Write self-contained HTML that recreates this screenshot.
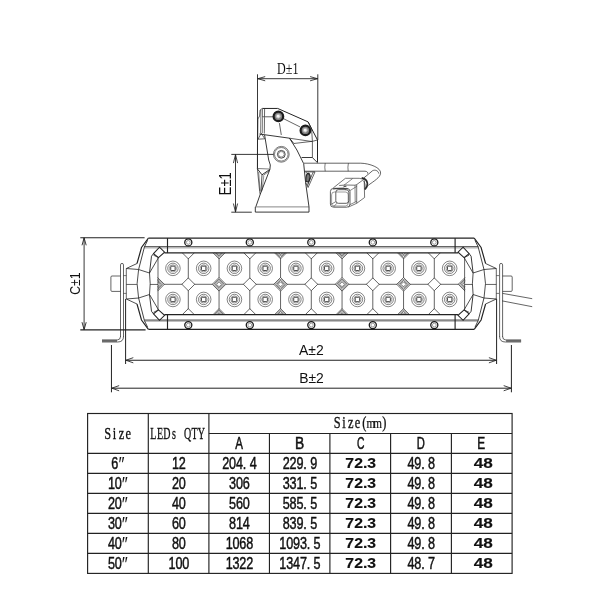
<!DOCTYPE html>
<html lang="en">
<head>
<meta charset="utf-8">
<title>LED light bar dimensions</title>
<style>
html,body{margin:0;padding:0;background:#fff;}
body{width:600px;height:600px;overflow:hidden;font-family:"Liberation Sans",sans-serif;}
svg{display:block;}
</style>
</head>
<body>
<svg width="600" height="600" viewBox="0 0 600 600" stroke-linecap="butt" stroke-linejoin="miter">
<rect x="0" y="0" width="600" height="600" fill="#fff"/>
<g opacity="0.999">
<g id="front">
<line x1="157.55" y1="284.30" x2="465.05" y2="284.30" stroke="#222" stroke-width="0.7" />
<line x1="188.30" y1="252.85" x2="188.30" y2="314.65" stroke="#222" stroke-width="0.7" />
<line x1="219.05" y1="252.85" x2="219.05" y2="314.65" stroke="#222" stroke-width="0.7" />
<line x1="249.80" y1="252.85" x2="249.80" y2="314.65" stroke="#222" stroke-width="0.7" />
<line x1="280.55" y1="252.85" x2="280.55" y2="314.65" stroke="#222" stroke-width="0.7" />
<line x1="311.30" y1="252.85" x2="311.30" y2="314.65" stroke="#222" stroke-width="0.7" />
<line x1="342.05" y1="252.85" x2="342.05" y2="314.65" stroke="#222" stroke-width="0.7" />
<line x1="372.80" y1="252.85" x2="372.80" y2="314.65" stroke="#222" stroke-width="0.7" />
<line x1="403.55" y1="252.85" x2="403.55" y2="314.65" stroke="#222" stroke-width="0.7" />
<line x1="434.30" y1="252.85" x2="434.30" y2="314.65" stroke="#222" stroke-width="0.7" />
<circle cx="172.93" cy="268.35" r="7.30" stroke="#333" stroke-width="0.6" fill="none"/>
<circle cx="172.93" cy="268.35" r="5.20" stroke="#333" stroke-width="0.6" fill="none"/>
<circle cx="172.93" cy="268.35" r="3.60" stroke="#444" stroke-width="0.5" fill="none"/>
<rect x="170.73" y="266.15" width="4.4" height="4.4" rx="0.9" stroke="#222" stroke-width="0.85" fill="none"/>
<circle cx="172.93" cy="299.45" r="7.30" stroke="#333" stroke-width="0.6" fill="none"/>
<circle cx="172.93" cy="299.45" r="5.20" stroke="#333" stroke-width="0.6" fill="none"/>
<circle cx="172.93" cy="299.45" r="3.60" stroke="#444" stroke-width="0.5" fill="none"/>
<rect x="170.73" y="297.25" width="4.4" height="4.4" rx="0.9" stroke="#222" stroke-width="0.85" fill="none"/>
<circle cx="203.68" cy="268.35" r="7.30" stroke="#333" stroke-width="0.6" fill="none"/>
<circle cx="203.68" cy="268.35" r="5.20" stroke="#333" stroke-width="0.6" fill="none"/>
<circle cx="203.68" cy="268.35" r="3.60" stroke="#444" stroke-width="0.5" fill="none"/>
<rect x="201.48" y="266.15" width="4.4" height="4.4" rx="0.9" stroke="#222" stroke-width="0.85" fill="none"/>
<circle cx="203.68" cy="299.45" r="7.30" stroke="#333" stroke-width="0.6" fill="none"/>
<circle cx="203.68" cy="299.45" r="5.20" stroke="#333" stroke-width="0.6" fill="none"/>
<circle cx="203.68" cy="299.45" r="3.60" stroke="#444" stroke-width="0.5" fill="none"/>
<rect x="201.48" y="297.25" width="4.4" height="4.4" rx="0.9" stroke="#222" stroke-width="0.85" fill="none"/>
<circle cx="234.43" cy="268.35" r="7.30" stroke="#333" stroke-width="0.6" fill="none"/>
<circle cx="234.43" cy="268.35" r="5.20" stroke="#333" stroke-width="0.6" fill="none"/>
<circle cx="234.43" cy="268.35" r="3.60" stroke="#444" stroke-width="0.5" fill="none"/>
<rect x="232.23" y="266.15" width="4.4" height="4.4" rx="0.9" stroke="#222" stroke-width="0.85" fill="none"/>
<circle cx="234.43" cy="299.45" r="7.30" stroke="#333" stroke-width="0.6" fill="none"/>
<circle cx="234.43" cy="299.45" r="5.20" stroke="#333" stroke-width="0.6" fill="none"/>
<circle cx="234.43" cy="299.45" r="3.60" stroke="#444" stroke-width="0.5" fill="none"/>
<rect x="232.23" y="297.25" width="4.4" height="4.4" rx="0.9" stroke="#222" stroke-width="0.85" fill="none"/>
<circle cx="265.18" cy="268.35" r="7.30" stroke="#333" stroke-width="0.6" fill="none"/>
<circle cx="265.18" cy="268.35" r="5.20" stroke="#333" stroke-width="0.6" fill="none"/>
<circle cx="265.18" cy="268.35" r="3.60" stroke="#444" stroke-width="0.5" fill="none"/>
<rect x="262.98" y="266.15" width="4.4" height="4.4" rx="0.9" stroke="#222" stroke-width="0.85" fill="none"/>
<circle cx="265.18" cy="299.45" r="7.30" stroke="#333" stroke-width="0.6" fill="none"/>
<circle cx="265.18" cy="299.45" r="5.20" stroke="#333" stroke-width="0.6" fill="none"/>
<circle cx="265.18" cy="299.45" r="3.60" stroke="#444" stroke-width="0.5" fill="none"/>
<rect x="262.98" y="297.25" width="4.4" height="4.4" rx="0.9" stroke="#222" stroke-width="0.85" fill="none"/>
<circle cx="295.93" cy="268.35" r="7.30" stroke="#333" stroke-width="0.6" fill="none"/>
<circle cx="295.93" cy="268.35" r="5.20" stroke="#333" stroke-width="0.6" fill="none"/>
<circle cx="295.93" cy="268.35" r="3.60" stroke="#444" stroke-width="0.5" fill="none"/>
<rect x="293.73" y="266.15" width="4.4" height="4.4" rx="0.9" stroke="#222" stroke-width="0.85" fill="none"/>
<circle cx="295.93" cy="299.45" r="7.30" stroke="#333" stroke-width="0.6" fill="none"/>
<circle cx="295.93" cy="299.45" r="5.20" stroke="#333" stroke-width="0.6" fill="none"/>
<circle cx="295.93" cy="299.45" r="3.60" stroke="#444" stroke-width="0.5" fill="none"/>
<rect x="293.73" y="297.25" width="4.4" height="4.4" rx="0.9" stroke="#222" stroke-width="0.85" fill="none"/>
<circle cx="326.68" cy="268.35" r="7.30" stroke="#333" stroke-width="0.6" fill="none"/>
<circle cx="326.68" cy="268.35" r="5.20" stroke="#333" stroke-width="0.6" fill="none"/>
<circle cx="326.68" cy="268.35" r="3.60" stroke="#444" stroke-width="0.5" fill="none"/>
<rect x="324.48" y="266.15" width="4.4" height="4.4" rx="0.9" stroke="#222" stroke-width="0.85" fill="none"/>
<circle cx="326.68" cy="299.45" r="7.30" stroke="#333" stroke-width="0.6" fill="none"/>
<circle cx="326.68" cy="299.45" r="5.20" stroke="#333" stroke-width="0.6" fill="none"/>
<circle cx="326.68" cy="299.45" r="3.60" stroke="#444" stroke-width="0.5" fill="none"/>
<rect x="324.48" y="297.25" width="4.4" height="4.4" rx="0.9" stroke="#222" stroke-width="0.85" fill="none"/>
<circle cx="357.43" cy="268.35" r="7.30" stroke="#333" stroke-width="0.6" fill="none"/>
<circle cx="357.43" cy="268.35" r="5.20" stroke="#333" stroke-width="0.6" fill="none"/>
<circle cx="357.43" cy="268.35" r="3.60" stroke="#444" stroke-width="0.5" fill="none"/>
<rect x="355.23" y="266.15" width="4.4" height="4.4" rx="0.9" stroke="#222" stroke-width="0.85" fill="none"/>
<circle cx="357.43" cy="299.45" r="7.30" stroke="#333" stroke-width="0.6" fill="none"/>
<circle cx="357.43" cy="299.45" r="5.20" stroke="#333" stroke-width="0.6" fill="none"/>
<circle cx="357.43" cy="299.45" r="3.60" stroke="#444" stroke-width="0.5" fill="none"/>
<rect x="355.23" y="297.25" width="4.4" height="4.4" rx="0.9" stroke="#222" stroke-width="0.85" fill="none"/>
<circle cx="388.18" cy="268.35" r="7.30" stroke="#333" stroke-width="0.6" fill="none"/>
<circle cx="388.18" cy="268.35" r="5.20" stroke="#333" stroke-width="0.6" fill="none"/>
<circle cx="388.18" cy="268.35" r="3.60" stroke="#444" stroke-width="0.5" fill="none"/>
<rect x="385.98" y="266.15" width="4.4" height="4.4" rx="0.9" stroke="#222" stroke-width="0.85" fill="none"/>
<circle cx="388.18" cy="299.45" r="7.30" stroke="#333" stroke-width="0.6" fill="none"/>
<circle cx="388.18" cy="299.45" r="5.20" stroke="#333" stroke-width="0.6" fill="none"/>
<circle cx="388.18" cy="299.45" r="3.60" stroke="#444" stroke-width="0.5" fill="none"/>
<rect x="385.98" y="297.25" width="4.4" height="4.4" rx="0.9" stroke="#222" stroke-width="0.85" fill="none"/>
<circle cx="418.93" cy="268.35" r="7.30" stroke="#333" stroke-width="0.6" fill="none"/>
<circle cx="418.93" cy="268.35" r="5.20" stroke="#333" stroke-width="0.6" fill="none"/>
<circle cx="418.93" cy="268.35" r="3.60" stroke="#444" stroke-width="0.5" fill="none"/>
<rect x="416.73" y="266.15" width="4.4" height="4.4" rx="0.9" stroke="#222" stroke-width="0.85" fill="none"/>
<circle cx="418.93" cy="299.45" r="7.30" stroke="#333" stroke-width="0.6" fill="none"/>
<circle cx="418.93" cy="299.45" r="5.20" stroke="#333" stroke-width="0.6" fill="none"/>
<circle cx="418.93" cy="299.45" r="3.60" stroke="#444" stroke-width="0.5" fill="none"/>
<rect x="416.73" y="297.25" width="4.4" height="4.4" rx="0.9" stroke="#222" stroke-width="0.85" fill="none"/>
<circle cx="449.68" cy="268.35" r="7.30" stroke="#333" stroke-width="0.6" fill="none"/>
<circle cx="449.68" cy="268.35" r="5.20" stroke="#333" stroke-width="0.6" fill="none"/>
<circle cx="449.68" cy="268.35" r="3.60" stroke="#444" stroke-width="0.5" fill="none"/>
<rect x="447.48" y="266.15" width="4.4" height="4.4" rx="0.9" stroke="#222" stroke-width="0.85" fill="none"/>
<circle cx="449.68" cy="299.45" r="7.30" stroke="#333" stroke-width="0.6" fill="none"/>
<circle cx="449.68" cy="299.45" r="5.20" stroke="#333" stroke-width="0.6" fill="none"/>
<circle cx="449.68" cy="299.45" r="3.60" stroke="#444" stroke-width="0.5" fill="none"/>
<rect x="447.48" y="297.25" width="4.4" height="4.4" rx="0.9" stroke="#222" stroke-width="0.85" fill="none"/>
<path d="M157.55,277.50 L164.35,284.30 L157.55,291.10" stroke="#222" stroke-width="0.7" fill="#fff" />
<path d="M157.55,279.00 L162.85,284.30 L157.55,289.60" stroke="#222" stroke-width="0.6" fill="none" />
<path d="M157.55,280.40 L161.45,284.30 L157.55,288.20" stroke="#222" stroke-width="0.6" fill="none" />
<path d="M157.55,281.80 L160.05,284.30 L157.55,286.80" stroke="#222" stroke-width="0.6" fill="none" />
<path d="M181.90,284.30 L188.30,277.90 L194.70,284.30 L188.30,290.70 Z" stroke="#222" stroke-width="0.7" fill="#fff" />
<path d="M182.30,252.85 L188.30,258.85 L194.30,252.85" stroke="#222" stroke-width="0.7" fill="#fff" />
<path d="M182.30,314.65 L188.30,308.65 L194.30,314.65" stroke="#222" stroke-width="0.7" fill="#fff" />
<path d="M212.25,284.30 L219.05,277.50 L225.85,284.30 L219.05,291.10 Z" stroke="#222" stroke-width="0.7" fill="#fff" />
<path d="M213.75,284.30 L219.05,279.00 L224.35,284.30 L219.05,289.60 Z" stroke="#222" stroke-width="0.6" fill="none" />
<path d="M215.15,284.30 L219.05,280.40 L222.95,284.30 L219.05,288.20 Z" stroke="#222" stroke-width="0.6" fill="none" />
<path d="M216.55,284.30 L219.05,281.80 L221.55,284.30 L219.05,286.80 Z" stroke="#222" stroke-width="0.6" fill="none" />
<path d="M213.05,252.85 L219.05,258.85 L225.05,252.85" stroke="#222" stroke-width="0.7" fill="#fff" />
<path d="M214.45,252.85 L219.05,257.45 L223.65,252.85" stroke="#222" stroke-width="0.6" fill="none" />
<path d="M215.85,252.85 L219.05,256.05 L222.25,252.85" stroke="#222" stroke-width="0.6" fill="none" />
<path d="M217.25,252.85 L219.05,254.65 L220.85,252.85" stroke="#222" stroke-width="0.6" fill="none" />
<path d="M213.05,314.65 L219.05,308.65 L225.05,314.65" stroke="#222" stroke-width="0.7" fill="#fff" />
<path d="M214.45,314.65 L219.05,310.05 L223.65,314.65" stroke="#222" stroke-width="0.6" fill="none" />
<path d="M215.85,314.65 L219.05,311.45 L222.25,314.65" stroke="#222" stroke-width="0.6" fill="none" />
<path d="M217.25,314.65 L219.05,312.85 L220.85,314.65" stroke="#222" stroke-width="0.6" fill="none" />
<path d="M243.40,284.30 L249.80,277.90 L256.20,284.30 L249.80,290.70 Z" stroke="#222" stroke-width="0.7" fill="#fff" />
<path d="M243.80,252.85 L249.80,258.85 L255.80,252.85" stroke="#222" stroke-width="0.7" fill="#fff" />
<path d="M243.80,314.65 L249.80,308.65 L255.80,314.65" stroke="#222" stroke-width="0.7" fill="#fff" />
<path d="M273.75,284.30 L280.55,277.50 L287.35,284.30 L280.55,291.10 Z" stroke="#222" stroke-width="0.7" fill="#fff" />
<path d="M275.25,284.30 L280.55,279.00 L285.85,284.30 L280.55,289.60 Z" stroke="#222" stroke-width="0.6" fill="none" />
<path d="M276.65,284.30 L280.55,280.40 L284.45,284.30 L280.55,288.20 Z" stroke="#222" stroke-width="0.6" fill="none" />
<path d="M278.05,284.30 L280.55,281.80 L283.05,284.30 L280.55,286.80 Z" stroke="#222" stroke-width="0.6" fill="none" />
<path d="M274.55,252.85 L280.55,258.85 L286.55,252.85" stroke="#222" stroke-width="0.7" fill="#fff" />
<path d="M275.95,252.85 L280.55,257.45 L285.15,252.85" stroke="#222" stroke-width="0.6" fill="none" />
<path d="M277.35,252.85 L280.55,256.05 L283.75,252.85" stroke="#222" stroke-width="0.6" fill="none" />
<path d="M278.75,252.85 L280.55,254.65 L282.35,252.85" stroke="#222" stroke-width="0.6" fill="none" />
<path d="M274.55,314.65 L280.55,308.65 L286.55,314.65" stroke="#222" stroke-width="0.7" fill="#fff" />
<path d="M275.95,314.65 L280.55,310.05 L285.15,314.65" stroke="#222" stroke-width="0.6" fill="none" />
<path d="M277.35,314.65 L280.55,311.45 L283.75,314.65" stroke="#222" stroke-width="0.6" fill="none" />
<path d="M278.75,314.65 L280.55,312.85 L282.35,314.65" stroke="#222" stroke-width="0.6" fill="none" />
<path d="M304.90,284.30 L311.30,277.90 L317.70,284.30 L311.30,290.70 Z" stroke="#222" stroke-width="0.7" fill="#fff" />
<path d="M305.30,252.85 L311.30,258.85 L317.30,252.85" stroke="#222" stroke-width="0.7" fill="#fff" />
<path d="M305.30,314.65 L311.30,308.65 L317.30,314.65" stroke="#222" stroke-width="0.7" fill="#fff" />
<path d="M335.25,284.30 L342.05,277.50 L348.85,284.30 L342.05,291.10 Z" stroke="#222" stroke-width="0.7" fill="#fff" />
<path d="M336.75,284.30 L342.05,279.00 L347.35,284.30 L342.05,289.60 Z" stroke="#222" stroke-width="0.6" fill="none" />
<path d="M338.15,284.30 L342.05,280.40 L345.95,284.30 L342.05,288.20 Z" stroke="#222" stroke-width="0.6" fill="none" />
<path d="M339.55,284.30 L342.05,281.80 L344.55,284.30 L342.05,286.80 Z" stroke="#222" stroke-width="0.6" fill="none" />
<path d="M336.05,252.85 L342.05,258.85 L348.05,252.85" stroke="#222" stroke-width="0.7" fill="#fff" />
<path d="M337.45,252.85 L342.05,257.45 L346.65,252.85" stroke="#222" stroke-width="0.6" fill="none" />
<path d="M338.85,252.85 L342.05,256.05 L345.25,252.85" stroke="#222" stroke-width="0.6" fill="none" />
<path d="M340.25,252.85 L342.05,254.65 L343.85,252.85" stroke="#222" stroke-width="0.6" fill="none" />
<path d="M336.05,314.65 L342.05,308.65 L348.05,314.65" stroke="#222" stroke-width="0.7" fill="#fff" />
<path d="M337.45,314.65 L342.05,310.05 L346.65,314.65" stroke="#222" stroke-width="0.6" fill="none" />
<path d="M338.85,314.65 L342.05,311.45 L345.25,314.65" stroke="#222" stroke-width="0.6" fill="none" />
<path d="M340.25,314.65 L342.05,312.85 L343.85,314.65" stroke="#222" stroke-width="0.6" fill="none" />
<path d="M366.40,284.30 L372.80,277.90 L379.20,284.30 L372.80,290.70 Z" stroke="#222" stroke-width="0.7" fill="#fff" />
<path d="M366.80,252.85 L372.80,258.85 L378.80,252.85" stroke="#222" stroke-width="0.7" fill="#fff" />
<path d="M366.80,314.65 L372.80,308.65 L378.80,314.65" stroke="#222" stroke-width="0.7" fill="#fff" />
<path d="M396.75,284.30 L403.55,277.50 L410.35,284.30 L403.55,291.10 Z" stroke="#222" stroke-width="0.7" fill="#fff" />
<path d="M398.25,284.30 L403.55,279.00 L408.85,284.30 L403.55,289.60 Z" stroke="#222" stroke-width="0.6" fill="none" />
<path d="M399.65,284.30 L403.55,280.40 L407.45,284.30 L403.55,288.20 Z" stroke="#222" stroke-width="0.6" fill="none" />
<path d="M401.05,284.30 L403.55,281.80 L406.05,284.30 L403.55,286.80 Z" stroke="#222" stroke-width="0.6" fill="none" />
<path d="M397.55,252.85 L403.55,258.85 L409.55,252.85" stroke="#222" stroke-width="0.7" fill="#fff" />
<path d="M398.95,252.85 L403.55,257.45 L408.15,252.85" stroke="#222" stroke-width="0.6" fill="none" />
<path d="M400.35,252.85 L403.55,256.05 L406.75,252.85" stroke="#222" stroke-width="0.6" fill="none" />
<path d="M401.75,252.85 L403.55,254.65 L405.35,252.85" stroke="#222" stroke-width="0.6" fill="none" />
<path d="M397.55,314.65 L403.55,308.65 L409.55,314.65" stroke="#222" stroke-width="0.7" fill="#fff" />
<path d="M398.95,314.65 L403.55,310.05 L408.15,314.65" stroke="#222" stroke-width="0.6" fill="none" />
<path d="M400.35,314.65 L403.55,311.45 L406.75,314.65" stroke="#222" stroke-width="0.6" fill="none" />
<path d="M401.75,314.65 L403.55,312.85 L405.35,314.65" stroke="#222" stroke-width="0.6" fill="none" />
<path d="M427.90,284.30 L434.30,277.90 L440.70,284.30 L434.30,290.70 Z" stroke="#222" stroke-width="0.7" fill="#fff" />
<path d="M428.30,252.85 L434.30,258.85 L440.30,252.85" stroke="#222" stroke-width="0.7" fill="#fff" />
<path d="M428.30,314.65 L434.30,308.65 L440.30,314.65" stroke="#222" stroke-width="0.7" fill="#fff" />
<path d="M465.05,277.50 L458.25,284.30 L465.05,291.10" stroke="#222" stroke-width="0.7" fill="#fff" />
<path d="M465.05,279.00 L459.75,284.30 L465.05,289.60" stroke="#222" stroke-width="0.6" fill="none" />
<path d="M465.05,280.40 L461.15,284.30 L465.05,288.20" stroke="#222" stroke-width="0.6" fill="none" />
<path d="M465.05,281.80 L462.55,284.30 L465.05,286.80" stroke="#222" stroke-width="0.6" fill="none" />
<line x1="148.40" y1="238.15" x2="474.20" y2="238.15" stroke="#222" stroke-width="1.25" />
<line x1="148.40" y1="329.35" x2="474.20" y2="329.35" stroke="#222" stroke-width="1.25" />
<line x1="144.30" y1="246.65" x2="478.30" y2="246.65" stroke="#2a2a2a" stroke-width="0.85" />
<line x1="144.30" y1="320.85" x2="478.30" y2="320.85" stroke="#2a2a2a" stroke-width="0.85" />
<line x1="144.30" y1="247.90" x2="478.30" y2="247.90" stroke="#777" stroke-width="0.7" />
<line x1="144.30" y1="319.60" x2="478.30" y2="319.60" stroke="#777" stroke-width="0.7" />
<line x1="164.50" y1="252.85" x2="458.10" y2="252.85" stroke="#222" stroke-width="1.35" />
<line x1="164.50" y1="314.65" x2="458.10" y2="314.65" stroke="#222" stroke-width="1.35" />
<line x1="167.50" y1="238.15" x2="167.50" y2="252.85" stroke="#222" stroke-width="1.15" />
<line x1="167.50" y1="314.65" x2="167.50" y2="329.35" stroke="#222" stroke-width="1.15" />
<line x1="455.10" y1="238.15" x2="455.10" y2="252.85" stroke="#222" stroke-width="1.15" />
<line x1="455.10" y1="314.65" x2="455.10" y2="329.35" stroke="#222" stroke-width="1.15" />
<circle cx="188.30" cy="242.40" r="3.55" stroke="#1a1a1a" stroke-width="1.3" fill="#fff"/>
<circle cx="188.30" cy="242.40" r="1.90" stroke="#444" stroke-width="0.5" fill="none"/>
<circle cx="188.30" cy="325.10" r="3.55" stroke="#1a1a1a" stroke-width="1.3" fill="#fff"/>
<circle cx="188.30" cy="325.10" r="1.90" stroke="#444" stroke-width="0.5" fill="none"/>
<circle cx="249.80" cy="242.40" r="3.55" stroke="#1a1a1a" stroke-width="1.3" fill="#fff"/>
<circle cx="249.80" cy="242.40" r="1.90" stroke="#444" stroke-width="0.5" fill="none"/>
<circle cx="249.80" cy="325.10" r="3.55" stroke="#1a1a1a" stroke-width="1.3" fill="#fff"/>
<circle cx="249.80" cy="325.10" r="1.90" stroke="#444" stroke-width="0.5" fill="none"/>
<circle cx="311.30" cy="242.40" r="3.55" stroke="#1a1a1a" stroke-width="1.3" fill="#fff"/>
<circle cx="311.30" cy="242.40" r="1.90" stroke="#444" stroke-width="0.5" fill="none"/>
<circle cx="311.30" cy="325.10" r="3.55" stroke="#1a1a1a" stroke-width="1.3" fill="#fff"/>
<circle cx="311.30" cy="325.10" r="1.90" stroke="#444" stroke-width="0.5" fill="none"/>
<circle cx="372.80" cy="242.40" r="3.55" stroke="#1a1a1a" stroke-width="1.3" fill="#fff"/>
<circle cx="372.80" cy="242.40" r="1.90" stroke="#444" stroke-width="0.5" fill="none"/>
<circle cx="372.80" cy="325.10" r="3.55" stroke="#1a1a1a" stroke-width="1.3" fill="#fff"/>
<circle cx="372.80" cy="325.10" r="1.90" stroke="#444" stroke-width="0.5" fill="none"/>
<circle cx="434.30" cy="242.40" r="3.55" stroke="#1a1a1a" stroke-width="1.3" fill="#fff"/>
<circle cx="434.30" cy="242.40" r="1.90" stroke="#444" stroke-width="0.5" fill="none"/>
<circle cx="434.30" cy="325.10" r="3.55" stroke="#1a1a1a" stroke-width="1.3" fill="#fff"/>
<circle cx="434.30" cy="325.10" r="1.90" stroke="#444" stroke-width="0.5" fill="none"/>
<path d="M148.40,238.15 L141.50,247.50 L137.00,263.50" stroke="#222" stroke-width="1.15" fill="none" />
<path d="M147.60,240.30 L144.40,247.00 L138.60,269.50" stroke="#222" stroke-width="0.85" fill="none" />
<path d="M137.00,263.50 L126.30,268.50 L138.60,269.50" stroke="#222" stroke-width="0.8" fill="none" />
<path d="M138.60,269.50 L149.50,273.00" stroke="#222" stroke-width="0.8" fill="none" />
<path d="M153.50,253.60 L159.50,247.20 L164.60,252.20 L158.50,257.60 Z" stroke="#222" stroke-width="1.05" fill="none" />
<path d="M153.50,253.60 L151.50,256.20 L149.50,273.00" stroke="#222" stroke-width="0.9" fill="none" />
<path d="M153.50,255.20 L158.50,257.60" stroke="#222" stroke-width="0.7" fill="none" />
<path d="M158.50,257.60 L149.50,273.00" stroke="#222" stroke-width="0.8" fill="none" />
<g transform="translate(0,567.50) scale(1,-1)">
<path d="M148.40,238.15 L141.50,247.50 L137.00,263.50" stroke="#222" stroke-width="1.15" fill="none" />
<path d="M147.60,240.30 L144.40,247.00 L138.60,269.50" stroke="#222" stroke-width="0.85" fill="none" />
<path d="M137.00,263.50 L126.30,268.50 L138.60,269.50" stroke="#222" stroke-width="0.8" fill="none" />
<path d="M138.60,269.50 L149.50,273.00" stroke="#222" stroke-width="0.8" fill="none" />
<path d="M153.50,253.60 L159.50,247.20 L164.60,252.20 L158.50,257.60 Z" stroke="#222" stroke-width="1.05" fill="none" />
<path d="M153.50,253.60 L151.50,256.20 L149.50,273.00" stroke="#222" stroke-width="0.9" fill="none" />
<path d="M153.50,255.20 L158.50,257.60" stroke="#222" stroke-width="0.7" fill="none" />
<path d="M158.50,257.60 L149.50,273.00" stroke="#222" stroke-width="0.8" fill="none" />
</g>
<path d="M138.6,269.5 Q135.6,283.75 138.6,298.00" stroke="#222" stroke-width="0.8" fill="none" />
<path d="M149.5,273 Q150.9,283.75 149.5,294.50" stroke="#222" stroke-width="0.8" fill="none" />
<line x1="126.30" y1="268.50" x2="126.30" y2="299.00" stroke="#222" stroke-width="0.7" />
<line x1="158.00" y1="257.60" x2="158.00" y2="309.90" stroke="#222" stroke-width="0.7" />
<line x1="126.30" y1="284.45" x2="136.90" y2="284.45" stroke="#222" stroke-width="0.7" />
<line x1="150.10" y1="284.45" x2="158.00" y2="284.45" stroke="#222" stroke-width="0.7" />
<g transform="translate(0,0)">
<path d="M120.5,337 V264.9 A1.5,1.5 0 0 1 123.5,264.9 V337" stroke="#222" stroke-width="0.7" fill="none" />
<path d="M120.5,276.0 H112.0 Q110.9,276.0 110.9,277.1 V290.3 Q110.9,291.4 112.0,291.4 H120.5" stroke="#222" stroke-width="0.7" fill="none" />
</g>
<path d="M123.5,275.6 H126.3 M123.5,293.4 H126.3" stroke="#222" stroke-width="0.6" fill="none" />
<g transform="translate(622.60,0) scale(-1,1)">
<path d="M148.40,238.15 L141.50,247.50 L137.00,263.50" stroke="#222" stroke-width="1.15" fill="none" />
<path d="M147.60,240.30 L144.40,247.00 L138.60,269.50" stroke="#222" stroke-width="0.85" fill="none" />
<path d="M137.00,263.50 L126.30,268.50 L138.60,269.50" stroke="#222" stroke-width="0.8" fill="none" />
<path d="M138.60,269.50 L149.50,273.00" stroke="#222" stroke-width="0.8" fill="none" />
<path d="M153.50,253.60 L159.50,247.20 L164.60,252.20 L158.50,257.60 Z" stroke="#222" stroke-width="1.05" fill="none" />
<path d="M153.50,253.60 L151.50,256.20 L149.50,273.00" stroke="#222" stroke-width="0.9" fill="none" />
<path d="M153.50,255.20 L158.50,257.60" stroke="#222" stroke-width="0.7" fill="none" />
<path d="M158.50,257.60 L149.50,273.00" stroke="#222" stroke-width="0.8" fill="none" />
<g transform="translate(0,567.50) scale(1,-1)">
<path d="M148.40,238.15 L141.50,247.50 L137.00,263.50" stroke="#222" stroke-width="1.15" fill="none" />
<path d="M147.60,240.30 L144.40,247.00 L138.60,269.50" stroke="#222" stroke-width="0.85" fill="none" />
<path d="M137.00,263.50 L126.30,268.50 L138.60,269.50" stroke="#222" stroke-width="0.8" fill="none" />
<path d="M138.60,269.50 L149.50,273.00" stroke="#222" stroke-width="0.8" fill="none" />
<path d="M153.50,253.60 L159.50,247.20 L164.60,252.20 L158.50,257.60 Z" stroke="#222" stroke-width="1.05" fill="none" />
<path d="M153.50,253.60 L151.50,256.20 L149.50,273.00" stroke="#222" stroke-width="0.9" fill="none" />
<path d="M153.50,255.20 L158.50,257.60" stroke="#222" stroke-width="0.7" fill="none" />
<path d="M158.50,257.60 L149.50,273.00" stroke="#222" stroke-width="0.8" fill="none" />
</g>
<path d="M138.6,269.5 Q135.6,283.75 138.6,298.00" stroke="#222" stroke-width="0.8" fill="none" />
<path d="M149.5,273 Q150.9,283.75 149.5,294.50" stroke="#222" stroke-width="0.8" fill="none" />
<line x1="126.30" y1="268.50" x2="126.30" y2="299.00" stroke="#222" stroke-width="0.7" />
<line x1="158.00" y1="257.60" x2="158.00" y2="309.90" stroke="#222" stroke-width="0.7" />
<line x1="126.30" y1="284.45" x2="136.90" y2="284.45" stroke="#222" stroke-width="0.7" />
<line x1="150.10" y1="284.45" x2="158.00" y2="284.45" stroke="#222" stroke-width="0.7" />
<g transform="translate(-0.5,0)">
<path d="M120.5,337 V264.9 A1.5,1.5 0 0 1 123.5,264.9 V337" stroke="#222" stroke-width="0.7" fill="none" />
<path d="M120.5,276.0 H112.0 Q110.9,276.0 110.9,277.1 V290.3 Q110.9,291.4 112.0,291.4 H120.5" stroke="#222" stroke-width="0.7" fill="none" />
</g>
<path d="M123.5,275.6 H126.3 M123.5,293.4 H126.3" stroke="#222" stroke-width="0.6" fill="none" />
</g>
<path d="M120.5,336.5 Q120.5,339.8 117.4,339.9 H102" stroke="#222" stroke-width="0.7" fill="none" />
<path d="M123.5,336.5 Q123.5,342.0 117.6,342.0 H102" stroke="#222" stroke-width="0.7" fill="none" />
<path d="M102,340.95 H117" stroke="#555" stroke-width="1.6" fill="none" />
<g transform="translate(623.10,0) scale(-1,1)">
<path d="M120.5,336.5 Q120.5,339.8 117.4,339.9 H102" stroke="#222" stroke-width="0.7" fill="none" />
<path d="M123.5,336.5 Q123.5,342.0 117.6,342.0 H102" stroke="#222" stroke-width="0.7" fill="none" />
<path d="M102,340.95 H117" stroke="#555" stroke-width="1.6" fill="none" />
</g>
<path d="M502.6,293.4 L532.2,298.7" stroke="#222" stroke-width="0.7" fill="none" />
<path d="M502.2,300.9 L532.2,306.7" stroke="#222" stroke-width="0.7" fill="none" />
<line x1="80.30" y1="237.70" x2="144.60" y2="237.70" stroke="#222" stroke-width="1.15" />
<line x1="80.30" y1="329.80" x2="145.60" y2="329.80" stroke="#222" stroke-width="1.15" />
<line x1="84.10" y1="237.70" x2="84.10" y2="329.80" stroke="#222" stroke-width="0.9" />
<path d="M82.00,245.30 L84.10,237.90 L86.20,245.30" stroke="#222" stroke-width="0.9" fill="none" />
<path d="M86.20,322.20 L84.10,329.60 L82.00,322.20" stroke="#222" stroke-width="0.9" fill="none" />
<line x1="125.60" y1="299.00" x2="125.60" y2="364.00" stroke="#222" stroke-width="1.0" />
<line x1="496.60" y1="299.00" x2="496.60" y2="364.00" stroke="#222" stroke-width="1.0" />
<line x1="125.60" y1="360.25" x2="496.60" y2="360.25" stroke="#222" stroke-width="1.0" />
<path d="M133.30,362.85 L125.90,360.25 L133.30,357.65" stroke="#222" stroke-width="0.85" fill="none" />
<path d="M488.90,357.65 L496.30,360.25 L488.90,362.85" stroke="#222" stroke-width="0.85" fill="none" />
<line x1="111.45" y1="345.00" x2="111.45" y2="392.30" stroke="#222" stroke-width="1.0" />
<line x1="511.40" y1="345.00" x2="511.40" y2="392.30" stroke="#222" stroke-width="1.0" />
<line x1="111.45" y1="388.20" x2="511.40" y2="388.20" stroke="#222" stroke-width="1.0" />
<path d="M119.15,390.80 L111.75,388.20 L119.15,385.60" stroke="#222" stroke-width="0.85" fill="none" />
<path d="M503.70,385.60 L511.10,388.20 L503.70,390.80" stroke="#222" stroke-width="0.85" fill="none" />
</g>
<g id="side">
<line x1="257.50" y1="74.30" x2="257.50" y2="168.70" stroke="#222" stroke-width="0.9" />
<line x1="317.80" y1="74.30" x2="317.80" y2="140.00" stroke="#222" stroke-width="0.9" />
<line x1="257.50" y1="78.70" x2="317.80" y2="78.70" stroke="#222" stroke-width="0.9" />
<path d="M265.20,80.80 L257.80,78.70 L265.20,76.60" stroke="#222" stroke-width="0.85" fill="none" />
<path d="M310.10,76.60 L317.50,78.70 L310.10,80.80" stroke="#222" stroke-width="0.85" fill="none" />
<line x1="231.30" y1="154.40" x2="273.60" y2="154.40" stroke="#222" stroke-width="0.9" />
<line x1="231.30" y1="212.20" x2="251.80" y2="212.20" stroke="#222" stroke-width="0.9" />
<line x1="235.50" y1="154.40" x2="235.50" y2="212.20" stroke="#222" stroke-width="0.9" />
<path d="M233.40,163.10 L235.50,154.60 L237.60,163.10" stroke="#222" stroke-width="0.85" fill="none" />
<path d="M237.60,203.50 L235.50,212.00 L233.40,203.50" stroke="#222" stroke-width="0.85" fill="none" />
<path d="M262.30,108.45 L277.70,108.45 L308.10,121.90 L317.50,140.00 L317.50,162.50" stroke="#222" stroke-width="1.0" fill="none" />
<path d="M262.30,108.45 L260.10,110.00 L259.60,116.00 L257.90,119.00 L257.70,138.60" stroke="#222" stroke-width="0.7" fill="none" />
<path d="M260.90,109.80 L260.60,133.00" stroke="#222" stroke-width="0.6" fill="none" />
<path d="M262.50,109.00 L262.30,133.20" stroke="#222" stroke-width="0.6" fill="none" />
<path d="M264.60,108.60 L264.30,133.60" stroke="#222" stroke-width="0.7" fill="none" />
<line x1="262.00" y1="116.50" x2="273.20" y2="116.50" stroke="#444" stroke-width="0.6" />
<line x1="262.00" y1="117.30" x2="273.20" y2="117.30" stroke="#888" stroke-width="0.5" />
<path d="M261.20,133.20 L258.00,139.20 L264.80,138.80 Z" stroke="#222" stroke-width="0.7" fill="none" />
<path d="M283.80,118.80 L300.00,126.90" stroke="#222" stroke-width="0.7" fill="none" />
<path d="M308.10,121.90 L311.60,129.00 L312.40,141.30 L312.40,157.50" stroke="#222" stroke-width="0.7" fill="none" />
<path d="M279.40,123.10 L281.30,135.00" stroke="#222" stroke-width="0.7" fill="none" />
<path d="M259.40,134.00 L289.50,138.20 L293.80,143.50" stroke="#222" stroke-width="0.9" fill="none" />
<path d="M293.80,143.50 L312.50,141.30 L317.50,140.00" stroke="#222" stroke-width="0.7" fill="none" />
<path d="M289.50,138.20 L312.40,141.60" stroke="#222" stroke-width="0.7" fill="none" />
<path d="M257.50,138.60 L257.40,168.60 L259.70,191.70 L260.20,194.40" stroke="#222" stroke-width="0.7" fill="none" />
<path d="M257.40,168.50 L269.00,169.00" stroke="#222" stroke-width="0.6" fill="none" />
<path d="M257.40,168.90 L262.00,174.80 L269.90,169.40" stroke="#222" stroke-width="0.95" fill="none" />
<path d="M263.40,175.40 L269.40,170.80" stroke="#222" stroke-width="0.6" fill="none" />
<path d="M262.00,174.80 L261.00,191.70" stroke="#222" stroke-width="0.8" fill="none" />
<path d="M263.80,175.80 L262.00,190.60" stroke="#222" stroke-width="0.5" fill="none" />
<path d="M258.70,172.00 L260.10,190.80" stroke="#222" stroke-width="0.5" fill="none" />
<path d="M264.60,135.00 L268.70,160.00 L270.30,165.00 L269.90,169.40 L260.20,194.40 L255.90,206.60" stroke="#222" stroke-width="0.9" fill="none" />
<path d="M289.50,138.20 L296.90,150.00 L303.70,163.70 L305.60,182.50 L309.00,206.90" stroke="#222" stroke-width="0.9" fill="none" />
<path d="M255.3,206.9 V212.1 H309.0 V206.9" stroke="#222" stroke-width="0.9" fill="none" />
<line x1="255.30" y1="206.90" x2="309.00" y2="206.90" stroke="#222" stroke-width="0.55" />
<circle cx="281.30" cy="154.30" r="7.90" stroke="#222" stroke-width="0.6" fill="none"/>
<circle cx="281.30" cy="154.30" r="6.80" stroke="#222" stroke-width="0.6" fill="none"/>
<circle cx="281.30" cy="154.30" r="3.90" stroke="#222" stroke-width="0.8" fill="none"/>
<path d="M284.30,154.30 L282.80,156.90 L279.80,156.90 L278.30,154.30 L279.80,151.70 L282.80,151.70 Z" stroke="#222" stroke-width="0.5" fill="none" />
<circle cx="278.40" cy="116.40" r="4.80" stroke="#1c1c1c" stroke-width="2.2" fill="#808080"/>
<circle cx="278.20" cy="116.20" r="2.00" stroke="#b5b5b5" stroke-width="1.0" fill="#f6f6f6"/>
<circle cx="305.40" cy="130.40" r="4.80" stroke="#1c1c1c" stroke-width="2.2" fill="#808080"/>
<circle cx="305.20" cy="130.20" r="2.00" stroke="#b5b5b5" stroke-width="1.0" fill="#f6f6f6"/>
<path d="M301.60,157.50 L312.30,157.50 L317.50,162.70" stroke="#222" stroke-width="0.9" fill="none" />
<path d="M305.00,171.90 L315.00,171.90 L308.10,187.50 L305.60,182.50" stroke="#222" stroke-width="0.7" fill="none" />
<path d="M313.30,171.90 L307.60,184.60" stroke="#222" stroke-width="0.7" fill="none" />
<ellipse cx="307.9" cy="177.6" rx="1.9" ry="4.3" fill="#777" stroke="#2a2a2a" stroke-width="1.1" transform="rotate(8 307.9 177.6)"/>
<path d="M306.20,172.40 L311.00,176.50 L307.40,186.00" stroke="#222" stroke-width="0.6" fill="none" />
<path d="M304.0,163.2 H360.8 C369.5,163.4 381.2,167.6 380.6,173.2 C380.2,177.6 374.0,181.0 367.6,185.8" stroke="#222" stroke-width="0.7" fill="none" />
<path d="M304.6,171.2 H365.0 C367.2,171.4 368.0,172.4 367.6,173.6" stroke="#222" stroke-width="0.7" fill="none" />
<path d="M363.9,177.9 L372.6,170.7 C374.8,169.5 378.2,170.4 378.8,173.6" stroke="#222" stroke-width="0.7" fill="none" />
<path d="M325.2,163.2 Q324.4,167.2 325.2,171.2" stroke="#222" stroke-width="0.6" fill="none" />
<path d="M348.4,163.2 Q347.5,167.2 348.2,171.2" stroke="#222" stroke-width="0.6" fill="none" />
<path d="M333.30,187.90 L345.40,178.30 L359.20,178.30 L363.90,179.30" stroke="#3a3a3a" stroke-width="0.7" fill="none" />
<path d="M343.80,185.30 L352.60,178.60" stroke="#3a3a3a" stroke-width="0.6" fill="none" />
<path d="M339.20,185.50 L345.40,185.00 L355.00,185.20 L356.70,184.60 L363.90,179.30" stroke="#3a3a3a" stroke-width="0.7" fill="none" />
<path d="M356.70,184.60 L356.70,203.30 L364.60,197.50 L364.20,180.00" stroke="#3a3a3a" stroke-width="0.7" fill="none" />
<path d="M355.00,185.20 L355.20,202.00" stroke="#3a3a3a" stroke-width="0.6" fill="none" />
<path d="M350.00,190.60 L356.70,186.40" stroke="#3a3a3a" stroke-width="0.6" fill="none" />
<path d="M348.30,207.10 L356.70,203.30" stroke="#3a3a3a" stroke-width="0.7" fill="none" />
<path d="M350.00,204.60 L356.70,201.40" stroke="#3a3a3a" stroke-width="0.6" fill="none" />
<path d="M361.7,177.9 C364.6,178.4 366.9,180.2 367.4,183.4 C367.6,186.0 366.4,188.0 365.0,189.4" stroke="#2a2a2a" stroke-width="1.7" fill="none" />
<path d="M363.9,181.0 C365.2,183.4 365.2,186.4 364.6,189.6" stroke="#444" stroke-width="1.0" fill="none" />
<rect x="330.4" y="188.4" width="19.6" height="18.8" rx="3.2" stroke="#3a3a3a" stroke-width="0.8" fill="#fff"/>
<rect x="335.8" y="189.7" width="13.0" height="13.6" rx="2.6" stroke="#3a3a3a" stroke-width="0.8" fill="none"/>
<rect x="331.6" y="192.0" width="16.6" height="14.0" rx="2.8" stroke="#3a3a3a" stroke-width="0.5" fill="none"/>
<path d="M334.2,188.7 H347.6" stroke="#444" stroke-width="1.1" fill="none" />
<path d="M343.6,186.6 L346.4,186.2" stroke="#555" stroke-width="1.2" fill="none" />
<path d="M330.60,204.60 L335.90,201.60" stroke="#3a3a3a" stroke-width="0.6" fill="none" />
<path d="M333.40,207.00 L337.00,203.20" stroke="#3a3a3a" stroke-width="0.6" fill="none" />
<path d="M333.30,187.90 L334.00,190.00" stroke="#3a3a3a" stroke-width="0.6" fill="none" />
<path d="M335.00,188.40 L344.00,188.00 L346.00,190.40" stroke="#3a3a3a" stroke-width="0.6" fill="none" />
</g>
<g id="labels">
<text transform="translate(299.00,355.30) scale(0.9483,1)" font-family='"Liberation Sans", sans-serif' font-size="14.71" font-weight="normal" font-style="normal" fill="#111">A±2</text>
<text transform="translate(299.19,383.30) scale(0.9268,1)" font-family='"Liberation Sans", sans-serif' font-size="15.00" font-weight="normal" font-style="normal" fill="#111">B±2</text>
<text transform="translate(79.65,294.81) rotate(-90) scale(0.7910,1)" font-family='"Liberation Sans", sans-serif' font-size="15.49" font-weight="normal" font-style="normal" fill="#111">C±1</text>
<text transform="translate(231.20,195.13) rotate(-90) scale(0.7495,1)" font-family='"Liberation Sans", sans-serif' font-size="17.25" font-weight="normal" font-style="normal" fill="#111">E±1</text>
<text transform="translate(277.04,73.70) scale(0.7668,1)" font-family='"Liberation Serif", serif' font-size="15.76" font-weight="normal" font-style="normal" fill="#111">D±1</text>
</g>
<g id="table">
<rect x="87.6" y="413.5" width="424.50" height="159.90" fill="none" stroke="#222" stroke-width="1.15"/>
<line x1="148.30" y1="413.50" x2="148.30" y2="573.40" stroke="#222" stroke-width="1.15" />
<line x1="208.90" y1="413.50" x2="208.90" y2="573.40" stroke="#222" stroke-width="1.15" />
<line x1="269.45" y1="433.50" x2="269.45" y2="573.40" stroke="#222" stroke-width="1.15" />
<line x1="329.90" y1="433.50" x2="329.90" y2="573.40" stroke="#222" stroke-width="1.15" />
<line x1="390.60" y1="433.50" x2="390.60" y2="573.40" stroke="#222" stroke-width="1.15" />
<line x1="451.40" y1="433.50" x2="451.40" y2="573.40" stroke="#222" stroke-width="1.15" />
<line x1="208.90" y1="433.50" x2="512.10" y2="433.50" stroke="#222" stroke-width="1.15" />
<line x1="87.60" y1="453.30" x2="512.10" y2="453.30" stroke="#222" stroke-width="1.15" />
<line x1="87.60" y1="473.30" x2="512.10" y2="473.30" stroke="#222" stroke-width="1.15" />
<line x1="87.60" y1="493.35" x2="512.10" y2="493.35" stroke="#222" stroke-width="1.15" />
<line x1="87.60" y1="513.40" x2="512.10" y2="513.40" stroke="#222" stroke-width="1.15" />
<line x1="87.60" y1="533.40" x2="512.10" y2="533.40" stroke="#222" stroke-width="1.15" />
<line x1="87.60" y1="553.30" x2="512.10" y2="553.30" stroke="#222" stroke-width="1.15" />
<text transform="translate(0,438.80) scale(0.72,1)" x="149.62 159.13 168.65 178.16" y="0" font-family='"Liberation Serif", serif' font-size="17.2" font-weight="normal" text-anchor="middle" fill="#111" stroke="#111" stroke-width="0.35">Size</text>
<text transform="translate(0,438.80) scale(0.58,1)" x="264.20 276.04 287.89 299.73 311.58 323.42 335.27 347.11" y="0" font-family='"Liberation Serif", serif' font-size="17.2" font-weight="normal" text-anchor="middle" fill="#111" stroke="#111" stroke-width="0.35">LEDs QTY</text>
<text transform="translate(0,428.4) scale(0.72,1)" x="468.44 477.81 487.19 496.56 505.94" y="0" font-family='"Liberation Serif", serif' font-size="17.2" text-anchor="middle" fill="#111" stroke="#111" stroke-width="0.35">Size(<tspan font-size="15.5" x="515.14 524.58" stroke-width="0.25">mm</tspan><tspan x="533.61">)</tspan></text>
<text transform="translate(235.30,449.20) scale(0.7158,1)" font-family='"Liberation Sans", sans-serif' font-size="16.09" font-weight="normal" font-style="normal" fill="#111" stroke="#111" stroke-width="0.5">A</text>
<text transform="translate(295.10,449.20) scale(0.8562,1)" font-family='"Liberation Sans", sans-serif' font-size="16.09" font-weight="normal" font-style="normal" fill="#111" stroke="#111" stroke-width="0.5">B</text>
<text transform="translate(356.98,449.04) scale(0.6599,1)" font-family='"Liberation Sans", sans-serif' font-size="15.63" font-weight="normal" font-style="normal" fill="#111" stroke="#111" stroke-width="0.5">C</text>
<text transform="translate(416.71,449.20) scale(0.6954,1)" font-family='"Liberation Sans", sans-serif' font-size="16.09" font-weight="normal" font-style="normal" fill="#111" stroke="#111" stroke-width="0.5">D</text>
<text transform="translate(477.35,449.20) scale(0.7367,1)" font-family='"Liberation Sans", sans-serif' font-size="16.09" font-weight="normal" font-style="normal" fill="#111" stroke="#111" stroke-width="0.5">E</text>
<text transform="translate(0,469.00) scale(0.8,1)" x="143.53" y="0" font-family='"Liberation Sans", sans-serif' font-size="15.8" font-weight="normal" text-anchor="middle" fill="#111" stroke="#111" stroke-width="0.45">6<tspan x="150.84" dy="2.2" font-size="21" font-style="italic" stroke-width="0">″</tspan></text>
<text transform="translate(0,469.00) scale(0.8,1)" x="219.34 227.91" y="0" font-family='"Liberation Sans", sans-serif' font-size="15.8" font-weight="normal" text-anchor="middle" fill="#111" stroke="#111" stroke-width="0.45">12</text>
<text transform="translate(0,469.00) scale(0.8,1)" x="282.22 290.78 299.34 305.78 316.47" y="0" font-family='"Liberation Sans", sans-serif' font-size="15.8" font-weight="normal" text-anchor="middle" fill="#111" stroke="#111" stroke-width="0.45">204.4</text>
<text transform="translate(0,469.00) scale(0.8,1)" x="357.84 366.41 374.97 381.41 392.09" y="0" font-family='"Liberation Sans", sans-serif' font-size="15.8" font-weight="normal" text-anchor="middle" fill="#111" stroke="#111" stroke-width="0.45">229.9</text>
<text transform="translate(345.37,468.16) scale(1.1201,1)" font-family='"Liberation Sans", sans-serif' font-size="14.08" font-weight="bold" font-style="normal" fill="#111" stroke="#111" stroke-width="0.15">72.3</text>
<text transform="translate(0,469.00) scale(0.8,1)" x="513.78 522.34 528.78 539.47" y="0" font-family='"Liberation Sans", sans-serif' font-size="15.8" font-weight="normal" text-anchor="middle" fill="#111" stroke="#111" stroke-width="0.45">49.8</text>
<text transform="translate(473.66,468.26) scale(1.2070,1)" font-family='"Liberation Sans", sans-serif' font-size="14.23" font-weight="bold" font-style="normal" fill="#111" stroke="#111" stroke-width="0.15">48</text>
<text transform="translate(0,489.00) scale(0.8,1)" x="139.25 147.81" y="0" font-family='"Liberation Sans", sans-serif' font-size="15.8" font-weight="normal" text-anchor="middle" fill="#111" stroke="#111" stroke-width="0.45">10<tspan x="155.12" dy="2.2" font-size="21" font-style="italic" stroke-width="0">″</tspan></text>
<text transform="translate(0,489.00) scale(0.8,1)" x="219.34 227.91" y="0" font-family='"Liberation Sans", sans-serif' font-size="15.8" font-weight="normal" text-anchor="middle" fill="#111" stroke="#111" stroke-width="0.45">20</text>
<text transform="translate(0,489.00) scale(0.8,1)" x="290.78 299.34 307.91" y="0" font-family='"Liberation Sans", sans-serif' font-size="15.8" font-weight="normal" text-anchor="middle" fill="#111" stroke="#111" stroke-width="0.45">306</text>
<text transform="translate(0,489.00) scale(0.8,1)" x="357.84 366.41 374.97 381.41 392.09" y="0" font-family='"Liberation Sans", sans-serif' font-size="15.8" font-weight="normal" text-anchor="middle" fill="#111" stroke="#111" stroke-width="0.45">331.5</text>
<text transform="translate(345.37,488.16) scale(1.1201,1)" font-family='"Liberation Sans", sans-serif' font-size="14.08" font-weight="bold" font-style="normal" fill="#111" stroke="#111" stroke-width="0.15">72.3</text>
<text transform="translate(0,489.00) scale(0.8,1)" x="513.78 522.34 528.78 539.47" y="0" font-family='"Liberation Sans", sans-serif' font-size="15.8" font-weight="normal" text-anchor="middle" fill="#111" stroke="#111" stroke-width="0.45">49.8</text>
<text transform="translate(473.66,488.26) scale(1.2070,1)" font-family='"Liberation Sans", sans-serif' font-size="14.23" font-weight="bold" font-style="normal" fill="#111" stroke="#111" stroke-width="0.15">48</text>
<text transform="translate(0,509.05) scale(0.8,1)" x="139.25 147.81" y="0" font-family='"Liberation Sans", sans-serif' font-size="15.8" font-weight="normal" text-anchor="middle" fill="#111" stroke="#111" stroke-width="0.45">20<tspan x="155.12" dy="2.2" font-size="21" font-style="italic" stroke-width="0">″</tspan></text>
<text transform="translate(0,509.05) scale(0.8,1)" x="219.34 227.91" y="0" font-family='"Liberation Sans", sans-serif' font-size="15.8" font-weight="normal" text-anchor="middle" fill="#111" stroke="#111" stroke-width="0.45">40</text>
<text transform="translate(0,509.05) scale(0.8,1)" x="290.78 299.34 307.91" y="0" font-family='"Liberation Sans", sans-serif' font-size="15.8" font-weight="normal" text-anchor="middle" fill="#111" stroke="#111" stroke-width="0.45">560</text>
<text transform="translate(0,509.05) scale(0.8,1)" x="357.84 366.41 374.97 381.41 392.09" y="0" font-family='"Liberation Sans", sans-serif' font-size="15.8" font-weight="normal" text-anchor="middle" fill="#111" stroke="#111" stroke-width="0.45">585.5</text>
<text transform="translate(345.37,508.21) scale(1.1201,1)" font-family='"Liberation Sans", sans-serif' font-size="14.08" font-weight="bold" font-style="normal" fill="#111" stroke="#111" stroke-width="0.15">72.3</text>
<text transform="translate(0,509.05) scale(0.8,1)" x="513.78 522.34 528.78 539.47" y="0" font-family='"Liberation Sans", sans-serif' font-size="15.8" font-weight="normal" text-anchor="middle" fill="#111" stroke="#111" stroke-width="0.45">49.8</text>
<text transform="translate(473.66,508.31) scale(1.2070,1)" font-family='"Liberation Sans", sans-serif' font-size="14.23" font-weight="bold" font-style="normal" fill="#111" stroke="#111" stroke-width="0.15">48</text>
<text transform="translate(0,529.10) scale(0.8,1)" x="139.25 147.81" y="0" font-family='"Liberation Sans", sans-serif' font-size="15.8" font-weight="normal" text-anchor="middle" fill="#111" stroke="#111" stroke-width="0.45">30<tspan x="155.12" dy="2.2" font-size="21" font-style="italic" stroke-width="0">″</tspan></text>
<text transform="translate(0,529.10) scale(0.8,1)" x="219.34 227.91" y="0" font-family='"Liberation Sans", sans-serif' font-size="15.8" font-weight="normal" text-anchor="middle" fill="#111" stroke="#111" stroke-width="0.45">60</text>
<text transform="translate(0,529.10) scale(0.8,1)" x="290.78 299.34 307.91" y="0" font-family='"Liberation Sans", sans-serif' font-size="15.8" font-weight="normal" text-anchor="middle" fill="#111" stroke="#111" stroke-width="0.45">814</text>
<text transform="translate(0,529.10) scale(0.8,1)" x="357.84 366.41 374.97 381.41 392.09" y="0" font-family='"Liberation Sans", sans-serif' font-size="15.8" font-weight="normal" text-anchor="middle" fill="#111" stroke="#111" stroke-width="0.45">839.5</text>
<text transform="translate(345.37,528.26) scale(1.1201,1)" font-family='"Liberation Sans", sans-serif' font-size="14.08" font-weight="bold" font-style="normal" fill="#111" stroke="#111" stroke-width="0.15">72.3</text>
<text transform="translate(0,529.10) scale(0.8,1)" x="513.78 522.34 528.78 539.47" y="0" font-family='"Liberation Sans", sans-serif' font-size="15.8" font-weight="normal" text-anchor="middle" fill="#111" stroke="#111" stroke-width="0.45">49.8</text>
<text transform="translate(473.66,528.36) scale(1.2070,1)" font-family='"Liberation Sans", sans-serif' font-size="14.23" font-weight="bold" font-style="normal" fill="#111" stroke="#111" stroke-width="0.15">48</text>
<text transform="translate(0,549.10) scale(0.8,1)" x="139.25 147.81" y="0" font-family='"Liberation Sans", sans-serif' font-size="15.8" font-weight="normal" text-anchor="middle" fill="#111" stroke="#111" stroke-width="0.45">40<tspan x="155.12" dy="2.2" font-size="21" font-style="italic" stroke-width="0">″</tspan></text>
<text transform="translate(0,549.10) scale(0.8,1)" x="219.34 227.91" y="0" font-family='"Liberation Sans", sans-serif' font-size="15.8" font-weight="normal" text-anchor="middle" fill="#111" stroke="#111" stroke-width="0.45">80</text>
<text transform="translate(0,549.10) scale(0.8,1)" x="286.50 295.06 303.62 312.19" y="0" font-family='"Liberation Sans", sans-serif' font-size="15.8" font-weight="normal" text-anchor="middle" fill="#111" stroke="#111" stroke-width="0.45">1068</text>
<text transform="translate(0,549.10) scale(0.8,1)" x="353.56 362.12 370.69 379.25 385.69 396.37" y="0" font-family='"Liberation Sans", sans-serif' font-size="15.8" font-weight="normal" text-anchor="middle" fill="#111" stroke="#111" stroke-width="0.45">1093.5</text>
<text transform="translate(345.37,548.26) scale(1.1201,1)" font-family='"Liberation Sans", sans-serif' font-size="14.08" font-weight="bold" font-style="normal" fill="#111" stroke="#111" stroke-width="0.15">72.3</text>
<text transform="translate(0,549.10) scale(0.8,1)" x="513.78 522.34 528.78 539.47" y="0" font-family='"Liberation Sans", sans-serif' font-size="15.8" font-weight="normal" text-anchor="middle" fill="#111" stroke="#111" stroke-width="0.45">49.8</text>
<text transform="translate(473.66,548.36) scale(1.2070,1)" font-family='"Liberation Sans", sans-serif' font-size="14.23" font-weight="bold" font-style="normal" fill="#111" stroke="#111" stroke-width="0.15">48</text>
<text transform="translate(0,569.00) scale(0.8,1)" x="139.25 147.81" y="0" font-family='"Liberation Sans", sans-serif' font-size="15.8" font-weight="normal" text-anchor="middle" fill="#111" stroke="#111" stroke-width="0.45">50<tspan x="155.12" dy="2.2" font-size="21" font-style="italic" stroke-width="0">″</tspan></text>
<text transform="translate(0,569.00) scale(0.8,1)" x="215.06 223.63 232.19" y="0" font-family='"Liberation Sans", sans-serif' font-size="15.8" font-weight="normal" text-anchor="middle" fill="#111" stroke="#111" stroke-width="0.45">100</text>
<text transform="translate(0,569.00) scale(0.8,1)" x="286.50 295.06 303.62 312.19" y="0" font-family='"Liberation Sans", sans-serif' font-size="15.8" font-weight="normal" text-anchor="middle" fill="#111" stroke="#111" stroke-width="0.45">1322</text>
<text transform="translate(0,569.00) scale(0.8,1)" x="353.56 362.12 370.69 379.25 385.69 396.37" y="0" font-family='"Liberation Sans", sans-serif' font-size="15.8" font-weight="normal" text-anchor="middle" fill="#111" stroke="#111" stroke-width="0.45">1347.5</text>
<text transform="translate(345.37,568.16) scale(1.1201,1)" font-family='"Liberation Sans", sans-serif' font-size="14.08" font-weight="bold" font-style="normal" fill="#111" stroke="#111" stroke-width="0.15">72.3</text>
<text transform="translate(0,569.00) scale(0.8,1)" x="513.78 522.34 528.78 539.47" y="0" font-family='"Liberation Sans", sans-serif' font-size="15.8" font-weight="normal" text-anchor="middle" fill="#111" stroke="#111" stroke-width="0.45">48.7</text>
<text transform="translate(473.66,568.26) scale(1.2070,1)" font-family='"Liberation Sans", sans-serif' font-size="14.23" font-weight="bold" font-style="normal" fill="#111" stroke="#111" stroke-width="0.15">48</text>
</g>
</g>
</svg>
</body>
</html>
